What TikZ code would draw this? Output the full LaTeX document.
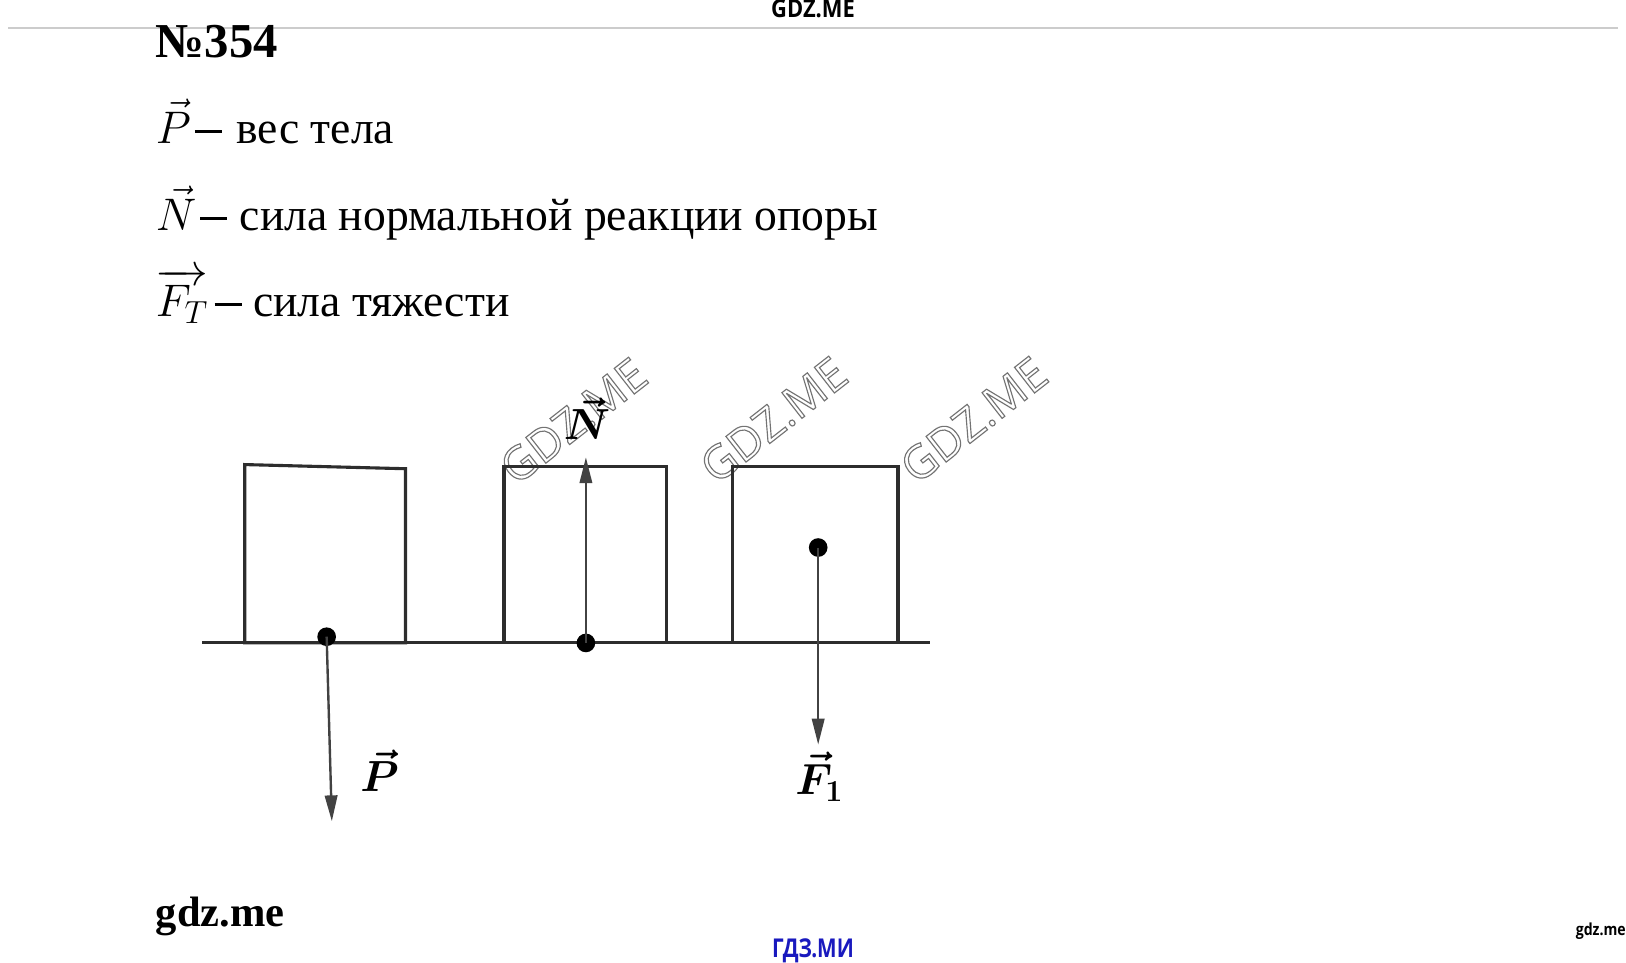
\RequirePackage{fix-cm}
\documentclass[tikz,border=0pt]{standalone}
\usepackage{amsmath,bm}
\usepackage{fontspec}
\setmainfont{Liberation Serif}
\newfontfamily\osans{Open Sans}
\usetikzlibrary{arrows.meta}
\definecolor{wmblue}{RGB}{25,25,190}
\definecolor{ln}{RGB}{45,45,45}
\newcommand{\outlinetext}[1]{\special{pdf:literal direct 1 Tr 1.1 w}#1\special{pdf:literal direct 0 Tr}}
\tikzset{
  txt/.style={inner sep=0pt, anchor=base west},
  big/.style={font=\fontsize{44}{52}\selectfont},
  boxline/.style={draw=ln, line width=3pt},
  force/.style={draw=ln!90, line width=2.3pt, -{Triangle[length=25pt,width=12pt]}},
  dotnode/.style={circle, fill=black, inner sep=0pt, minimum size=18pt},
  dashbar/.style={inner sep=0pt},
  wmark/.style={rotate=38, inner sep=0pt, text=black!55, font=\osans\fontsize{44}{44}\selectfont},
  lbl/.style={inner sep=0pt, font=\fontsize{42}{50}\selectfont}
}
\begin{document}
\begin{tikzpicture}[x=1pt,y=-1pt]
\useasboundingbox (0,0) rectangle (1568,928);
% header
\node[inner sep=0pt, anchor=base, font=\osans\bfseries\fontsize{24}{24}\selectfont] (top) at (784,17) {\scalebox{0.88}[1]{GDZ.ME}};
\coordinate (hl) at (8,27); \coordinate (hr) at (1560,27);
\draw[black!20, line width=1.2pt] (hl) -- (hr);
\node[txt, font=\bfseries\fontsize{47}{50}\selectfont] (num) at (150,55) {№354};
% legend
\node[txt, big] (m1) at (150,138) {$\vec{P}$};
\node[dashbar] (b1) at (201,127) {\rule{26pt}{3pt}};
\node[txt, big] (t1) at (228,138) {вес тела};
\node[txt, big] (m2) at (150,222) {$\vec{N}$};
\node[dashbar] (b2) at (206,211) {\rule{26pt}{3pt}};
\node[txt, big] (t2) at (231,222) {сила нормальной реакции опоры};
\node[txt, big] (m3) at (150,305) {$\overrightarrow{F_T}$};
\node[dashbar] (b3) at (220,294) {\rule{26pt}{3pt}};
\node[txt, big] (t3) at (244,305) {сила тяжести};
% watermarks
\node[wmark] (w1) at (553,406) {\outlinetext{GDZ.ME}};
\node[wmark] (w2) at (746,405) {\outlinetext{GDZ.ME}};
\node[wmark] (w3) at (939,405) {\outlinetext{GDZ.ME}};
% ground
\coordinate (gl) at (195,620); \coordinate (gr) at (897,620);
\draw[boxline] (gl) -- (gr);
% boxes
\draw[boxline] (236,620) -- (236,448) -- (391,452) -- (391,620) -- cycle;
\draw[boxline] (486,620) rectangle (643,450);
\draw[boxline] (706,620) rectangle (866,450);
% forces
\node[dotnode] (d1) at (315,614) {};
\node[dotnode] (d2) at (565,620) {};
\node[dotnode] (d3) at (789,528) {};
\coordinate (e1) at (320,792);
\coordinate (e2) at (565,441);
\coordinate (e3) at (789,718);
\draw[force] (d1.center) -- (e1);
\draw[force] (d2.center) -- (e2);
\draw[force] (d3.center) -- (e3);
\node[lbl] (lP) at (366,743) {$\bm{\vec{P}}$};
\node[lbl] (lN) at (566,404) {$\bm{\vec{N}}$};
\node[lbl] (lF) at (790,749) {$\bm{\vec{F}_1}$};
% footer
\node[txt, font=\bfseries\fontsize{41}{44}\selectfont] (gdz) at (150,893) {gdz.me};
\node[inner sep=0pt, anchor=base, text=wmblue, font=\osans\bfseries\fontsize{25}{25}\selectfont] (ru) at (784,923) {\scalebox{0.8}[1]{ГДЗ.МИ}};
\node[inner sep=0pt, anchor=base east, font=\osans\bfseries\fontsize{16}{16}\selectfont] (gr2) at (1568,902) {\scalebox{0.85}[1]{gdz.me}};
\end{tikzpicture}
\end{document}
